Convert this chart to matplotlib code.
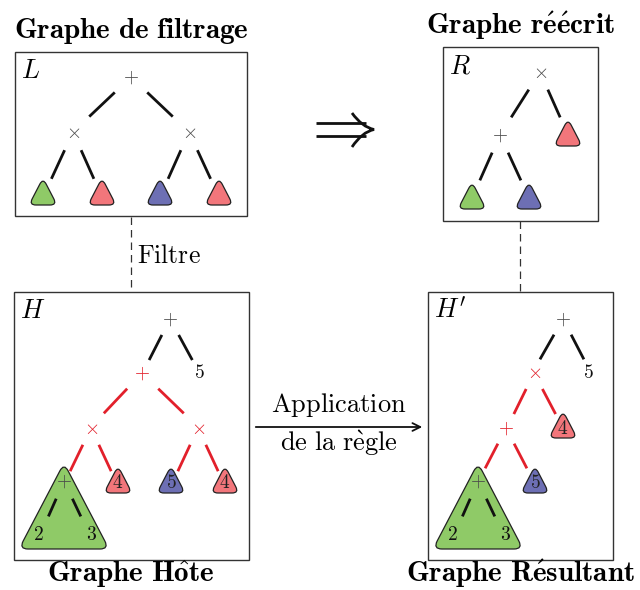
import matplotlib
matplotlib.use("Agg")
import matplotlib.pyplot as plt
from matplotlib.path import Path
from matplotlib.patches import PathPatch, Rectangle

plt.rcParams['mathtext.fontset'] = 'cm'

GREEN = '#8fca67'
RED = '#f2767b'
BLUE = '#6d6fb4'
LINE_RED = '#e2202b'
OP_GRAY = '#4a4a4a'

# panels: box and label
panel_names = ['L', 'R', 'H', "H'"]
panel_boxes = [(15, 52, 247, 216), (443, 47, 598, 221), (14, 292, 249, 560), (428, 292, 613, 560)]
panel_labels = [r'$L$', r'$R$', r'$H$', r"$H'$"]

titles = [r'$\mathbf{Graphe\ de\ filtrage}$', r'$\mathbf{Graphe\ r\acute{e}\acute{e}crit}$',
          r'$\mathbf{Graphe\ H\hat{o}te}$', r'$\mathbf{Graphe\ R\acute{e}sultant}$']
title_pos = [(131, 31), (520, 26), (131, 574), (520, 574)]

# operator nodes: (x, y, symbol, colour)
ops = [
    (131, 77, '+', 'g'), (73, 132, 'x', 'g'), (189, 132, 'x', 'g'),
    (540, 72, 'x', 'g'), (500, 135, '+', 'g'),
    (170, 319, '+', 'g'), (142, 373, '+', 'r'), (91, 428, 'x', 'r'), (198, 428, 'x', 'r'), (64, 481, '+', 'g'),
    (563, 319, '+', 'g'), (534, 373, 'x', 'r'), (506, 428, '+', 'r'), (478, 481, '+', 'g'),
]

# small leaf triangles: (x centre, top, colour, number)
leaves = [
    (43, 178, GREEN, ''), (102, 178, RED, ''), (160, 178, BLUE, ''), (219, 178, RED, ''),
    (568, 119, RED, ''), (472, 182, GREEN, ''), (529, 182, BLUE, ''),
    (118, 466, RED, '4'), (171, 466, BLUE, '5'), (225, 466, RED, '4'),
    (563, 411, RED, '4'), (535, 466, BLUE, '5'),
]

# plain number leaves
numbers = [(199, 373, '5'), (588, 373, '5'), (38, 535, '2'), (92, 535, '3'), (452, 535, '2'), (506, 535, '3')]

# big subtree triangles: (apex x, apex y, base y, half width)
big_tris = [(64, 463, 549, 45), (478, 463, 549, 45)]

# edges: (x parent, y parent, x child, y child, colour)
edges = [
    (131, 77, 73, 132, 'k'), (131, 77, 189, 132, 'k'),
    (73, 132, 43, 197, 'k'), (73, 132, 102, 197, 'k'), (189, 132, 160, 197, 'k'), (189, 132, 219, 197, 'k'),
    (540, 72, 500, 135, 'k'), (540, 72, 568, 135, 'k'),
    (500, 135, 472, 198, 'k'), (500, 135, 529, 198, 'k'),
    (170, 319, 141, 376, 'k'), (170, 319, 201, 376, 'k'),
    (142, 373, 89, 429, 'r'), (142, 373, 200, 429, 'r'),
    (91, 428, 62, 488, 'r'), (91, 428, 119, 488, 'r'), (198, 428, 170, 488, 'r'), (198, 428, 226, 488, 'r'),
    (563, 319, 531, 375, 'k'), (563, 319, 592, 375, 'k'),
    (534, 373, 506, 430, 'r'), (534, 373, 564, 430, 'r'),
    (506, 428, 477, 484, 'r'), (506, 428, 535, 484, 'r'),
]
sub_edges = [(64, 481, 38, 540), (64, 481, 92, 540), (478, 481, 452, 540), (478, 481, 506, 540)]


def rounded_tri(apex, left, right, d):
    pts = [apex, right, left]
    verts, codes = [], []
    for i in range(3):
        p = pts[i]
        prev_p = pts[i - 1]
        next_p = pts[(i + 1) % 3]

        def toward(a, b, dist):
            dx, dy = b[0] - a[0], b[1] - a[1]
            n = (dx * dx + dy * dy) ** 0.5
            return (a[0] + dx / n * dist, a[1] + dy / n * dist)

        p_in = toward(p, prev_p, d)
        p_out = toward(p, next_p, d)
        verts.append(p_in)
        codes.append(Path.MOVETO if i == 0 else Path.LINETO)
        verts += [p, p_out]
        codes += [Path.CURVE3, Path.CURVE3]
    verts.append(verts[0])
    codes.append(Path.LINETO)
    verts.append(verts[0])
    codes.append(Path.CLOSEPOLY)
    return Path(verts, codes)


fig = plt.figure(figsize=(6.4, 5.9), dpi=100)
ax = fig.add_axes([0, 0, 1, 1])
ax.set_xlim(0, 640)
ax.set_ylim(590, 0)
ax.axis('off')

for (x0, y0, x1, y1), lab in zip(panel_boxes, panel_labels):
    ax.add_patch(Rectangle((x0, y0), x1 - x0, y1 - y0, fill=False, ec='#333333', lw=1.0))
    ax.text(x0 + 6, y0 + 19, lab, fontsize=19, ha='left', va='center')

for (x, y), t in zip(title_pos, titles):
    ax.text(x, y, t, fontsize=21, ha='center', va='center')

for x0, y0, x1, y1, c in edges:
    col = LINE_RED if c == 'r' else '#111111'
    t0, t1 = 0.28, 0.72
    ax.plot([x0 + t0 * (x1 - x0), x0 + t1 * (x1 - x0)], [y0 + t0 * (y1 - y0), y0 + t1 * (y1 - y0)],
            color=col, lw=2.0, solid_capstyle='butt')

for ax_, ay, by, hw in big_tris:
    path = rounded_tri((ax_, ay), (ax_ - hw, by), (ax_ + hw, by), 9)
    ax.add_patch(PathPatch(path, fc=GREEN, ec='#222222', lw=0.9, zorder=2))

for x0, y0, x1, y1 in sub_edges:
    t0, t1 = 0.30, 0.60
    ax.plot([x0 + t0 * (x1 - x0), x0 + t1 * (x1 - x0)], [y0 + t0 * (y1 - y0), y0 + t1 * (y1 - y0)],
            color='#111111', lw=2.0, solid_capstyle='butt', zorder=3)

for x, top, col, num in leaves:
    path = rounded_tri((x, top), (x - 14, top + 27), (x + 14, top + 27), 7)
    ax.add_patch(PathPatch(path, fc=col, ec='#222222', lw=0.9, zorder=2))
    if num:
        ax.text(x, top + 17, '$' + num + '$', fontsize=14, ha='center', va='center', color='#222222', zorder=4)

for x, y, s, c in ops:
    sym = r'$+$' if s == '+' else r'$\times$'
    col = LINE_RED if c == 'r' else OP_GRAY
    ax.text(x, y, sym, fontsize=14, ha='center', va='center', color=col, zorder=4)

for x, y, n in numbers:
    ax.text(x, y, '$' + n + '$', fontsize=14, ha='center', va='center', color='#111111', zorder=4)

# dashed links
ax.plot([131, 131], [217, 292], color='#333333', lw=0.9, dashes=(6, 4))
ax.plot([520, 520], [221, 292], color='#333333', lw=0.9, dashes=(6, 4))
ax.text(137, 256, r'$\mathrm{Filtre}$', fontsize=18.5, ha='left', va='center')

# double arrow
ax.plot([316, 366], [123, 123], color='#111111', lw=2.0, solid_capstyle='butt')
ax.plot([316, 366], [136, 136], color='#111111', lw=2.0, solid_capstyle='butt')
head = Path([(352, 113), (362, 127), (374, 129.5), (362, 132), (352, 147)],
            [Path.MOVETO, Path.CURVE3, Path.CURVE3, Path.CURVE3, Path.CURVE3])
ax.add_patch(PathPatch(head, fc='none', ec='#111111', lw=2.0))

# application arrow
ax.annotate('', xy=(425, 427), xytext=(253, 427),
            arrowprops=dict(arrowstyle='->', color='#111111', lw=1.3, mutation_scale=14))
ax.text(339, 405, r'$\mathrm{Application}$', fontsize=19, ha='center', va='center')
ax.text(339, 443, r'$\mathrm{de\ la\ r\grave{e}gle}$', fontsize=19, ha='center', va='center')

fig.savefig('out.png', dpi=100)
